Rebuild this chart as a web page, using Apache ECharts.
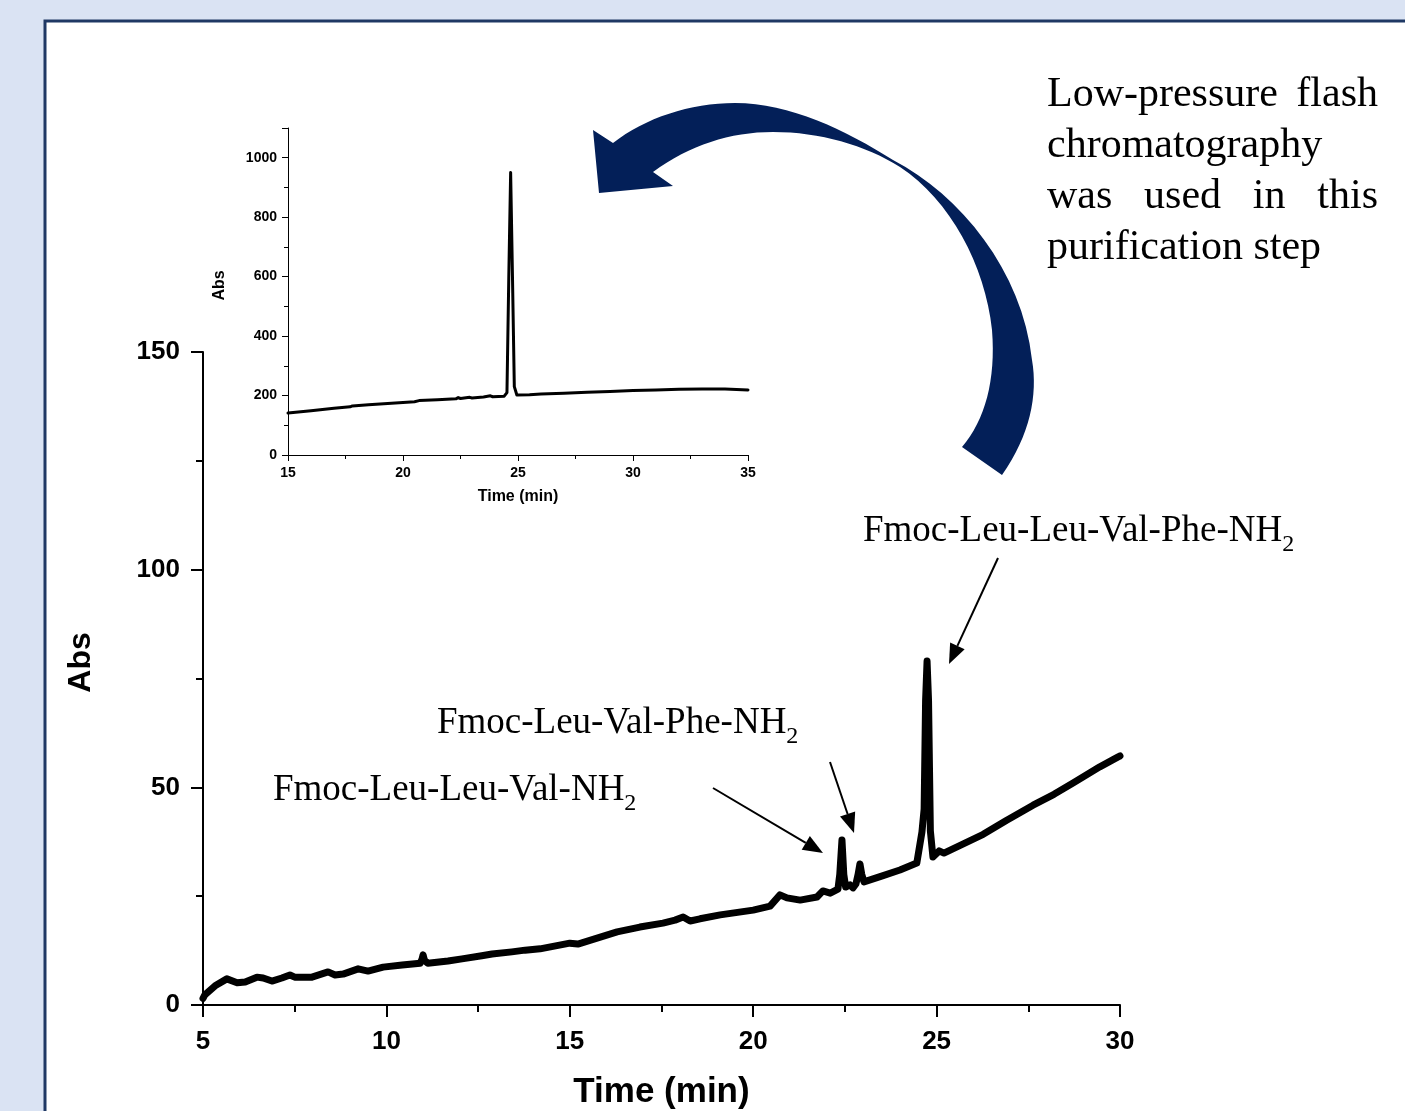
<!DOCTYPE html>
<html>
<head>
    <meta charset="utf-8">
    <script src="https://cdn.jsdelivr.net/npm/echarts@6/dist/echarts.min.js"></script>
    <style>
        body { margin: 0; background: #dae3f3; }
    </style>
</head>
<body>
    <div id="main" style="width:1405px;height:1111px;"></div>
</body>
<script type="text/javascript">
    // main chromatogram (5-30 min)
    var mainTime = [5.0, 5.05, 5.33, 5.65, 5.93, 6.15, 6.47, 6.64, 6.88, 7.15, 7.37, 7.5, 7.97, 8.41, 8.6, 8.82,
        9.23, 9.5, 9.91, 10.43, 10.92, 10.97, 11.0, 11.04, 11.13, 11.68, 12.06, 12.6, 12.88, 13.42, 13.78, 14.19,
        15.0, 15.22, 16.29, 16.91, 17.54, 17.87, 18.09, 18.28, 18.55, 19.1, 20.0, 20.46, 20.73, 20.92, 21.28,
        21.74, 21.9, 22.1, 22.31, 22.36, 22.42, 22.47, 22.52, 22.64, 22.72, 22.8, 22.86, 22.91, 22.96, 23.02,
        23.5, 24.0, 24.46, 24.6, 24.66, 24.7, 24.74, 24.78, 24.83, 24.9, 25.07, 25.2, 25.7, 26.27, 26.9, 27.63,
        28.2, 28.72, 29.45, 29.95, 30.0];
    var mainAbs = [1.5, 2.3, 4.4, 6.0, 5.1, 5.3, 6.4, 6.2, 5.5, 6.2, 6.9, 6.4, 6.4, 7.6, 6.9, 7.1,
        8.3, 7.8, 8.7, 9.2, 9.6, 10.5, 11.5, 10.2, 9.6, 10.1, 10.6, 11.3, 11.7, 12.2, 12.6, 12.9,
        14.2, 14.0, 16.8, 17.9, 18.8, 19.5, 20.2, 19.3, 19.8, 20.7, 21.8, 22.7, 25.3, 24.6, 24.1,
        24.8, 26.2, 25.7, 26.6, 30.0, 37.9, 30.0, 27.1, 27.6, 26.9, 27.8, 30.0, 32.4, 30.0, 28.3,
        29.6, 31.0, 32.6, 39.7, 45.0, 70.0, 79.0, 70.0, 40.0, 34.0, 35.4, 34.9, 36.9, 39.2, 42.4, 45.9,
        48.4, 51.0, 54.7, 57.0, 57.2];

    // inset: purified product (15-35 min)
    var insetTime = [15, 16, 17, 17.7, 17.8, 18.5, 19.5, 20.5, 20.7, 21.5, 22.3, 22.4, 22.5, 22.9, 23.0, 23.5,
        23.8, 23.9, 24.4, 24.52, 24.6, 24.68, 24.76, 24.84, 24.95, 25.5, 26, 27, 28, 29, 30, 31, 32, 33, 34, 35];
    var insetAbs = [141, 149, 157, 162, 165, 169, 174, 179, 183, 186, 189, 193, 190, 194, 192, 195,
        199, 196, 198, 210, 600, 950, 600, 230, 202, 203, 205, 208, 211, 214, 217, 219, 221, 222, 222, 219];

    var mainXTicks = [5, 30, 5];      // min, max, interval
    var mainYTicks = [0, 150, 50];
    var insetXTicks = [15, 35, 5];
    var insetYTicks = [0, 1100, 200];

    var peakLabels = [
        { text: 'Fmoc-Leu-Leu-Val-Phe-NH', x: 863, y: 544 },
        { text: 'Fmoc-Leu-Val-Phe-NH', x: 437, y: 736 },
        { text: 'Fmoc-Leu-Leu-Val-NH', x: 273, y: 803 }
    ];
    var noteLines = [
        ['Low-pressure', 'flash'],
        ['chromatography'],
        ['was', 'used', 'in', 'this'],
        ['purification step']
    ];

    function pairs(xs, ys) {
        return xs.map(function (x, i) { return [x, ys[i]]; });
    }

    var serif = '"Liberation Serif", "Times New Roman", serif';
    var sans = '"Liberation Sans", Arial, sans-serif';
    var measureCtx = document.createElement('canvas').getContext('2d');
    function textWidth(str, font) {
        measureCtx.font = font;
        return measureCtx.measureText(str).width;
    }

    // sample a list of cubic bezier segments / line points into polygon points
    function outline(start, segs) {
        var pts = [start];
        var cur = start;
        segs.forEach(function (s) {
            if (s.length === 2) {
                pts.push(s);
                cur = s;
                return;
            }
            for (var i = 1; i <= 16; i++) {
                var t = i / 16, u = 1 - t;
                var x = u * u * u * cur[0] + 3 * u * u * t * s[0] + 3 * u * t * t * s[2] + t * t * t * s[4];
                var y = u * u * u * cur[1] + 3 * u * u * t * s[1] + 3 * u * t * t * s[3] + t * t * t * s[5];
                pts.push([x, y]);
            }
            cur = [s[4], s[5]];
        });
        return pts;
    }

    var graphics = [];
    // white panel with navy border
    graphics.push({
        type: 'rect', z: -100, silent: true,
        shape: { x: 45, y: 21, width: 1500, height: 1200 },
        style: { fill: '#ffffff', stroke: '#1f3864', lineWidth: 3 }
    });

    // curved navy arrow
    graphics.push({
        type: 'polygon', z: 1, silent: true,
        shape: {
            points: outline([1002, 475], [
                [1030, 435, 1038, 395, 1032, 360],
                [1022, 270, 960, 195, 893, 160],
                [845, 130, 790, 103, 735, 103],
                [690, 103, 645, 118, 613, 143],
                [593, 130], [599, 193], [673, 186], [653, 172],
                [690, 145, 730, 132, 773, 132],
                [820, 132, 865, 145, 900, 167],
                [950, 200, 985, 265, 992, 330],
                [996, 380, 985, 420, 962, 447]
            ])
        },
        style: { fill: '#031f58' }
    });

    // note text, justified lines
    var noteFont = '42px ' + serif;
    var noteLeft = 1047, noteRight = 1378;
    noteLines.forEach(function (words, li) {
        var y = 95 + li * 51;
        if (words.length === 1) {
            graphics.push({ type: 'text', style: { text: words[0], x: noteLeft, y: y, font: noteFont, fill: '#000', align: 'left', verticalAlign: 'middle' } });
            return;
        }
        var total = 0;
        words.forEach(function (w) { total += textWidth(w, noteFont); });
        var gap = (noteRight - noteLeft - total) / (words.length - 1);
        var x = noteLeft;
        words.forEach(function (w) {
            graphics.push({ type: 'text', style: { text: w, x: x, y: y, font: noteFont, fill: '#000', align: 'left', verticalAlign: 'middle' } });
            x += textWidth(w, noteFont) + gap;
        });
    });

    // peak labels with subscript 2
    var labelFont = '37px ' + serif;
    var subFont = '24px ' + serif;
    peakLabels.forEach(function (p) {
        graphics.push({ type: 'text', style: { text: p.text, x: p.x, y: p.y - 13, font: labelFont, fill: '#000', align: 'left', verticalAlign: 'middle' } });
        graphics.push({ type: 'text', style: { text: '2', x: p.x + textWidth(p.text, labelFont), y: p.y + 1, font: subFont, fill: '#000', align: 'left', verticalAlign: 'middle' } });
    });

    // thin pointer arrows
    function pointer(x1, y1, x2, y2) {
        var dx = x2 - x1, dy = y2 - y1;
        var len = Math.sqrt(dx * dx + dy * dy);
        var ux = dx / len, uy = dy / len;
        var hl = 20, hw = 8;
        var bx = x2 - ux * hl, by = y2 - uy * hl;
        graphics.push({ type: 'line', silent: true, shape: { x1: x1, y1: y1, x2: bx, y2: by }, style: { stroke: '#000', lineWidth: 2 } });
        graphics.push({
            type: 'polygon', silent: true,
            shape: { points: [[x2, y2], [bx - uy * hw, by + ux * hw], [bx + uy * hw, by - ux * hw]] },
            style: { fill: '#000' }
        });
    }
    pointer(998, 558, 949, 664);
    pointer(830, 762, 854, 833);
    pointer(713, 788, 823, 853);

    var myChart = echarts.init(document.getElementById('main'));

    function axisCommon(width) {
        return {
            axisLine: { show: true, onZero: false, lineStyle: { color: '#000', width: width } },
            splitLine: { show: false },
            axisTick: { show: true, inside: false, lineStyle: { color: '#000', width: width } },
            minorTick: { show: true, splitNumber: 2, lineStyle: { color: '#000', width: width } }
        };
    }

    function xAxis(ticks, grid, big) {
        var a = axisCommon(big ? 2 : 1);
        a.axisTick.length = big ? 12 : 6;
        a.minorTick.length = big ? 7 : 4;
        return Object.assign(a, {
            type: 'value', gridIndex: grid, min: ticks[0], max: ticks[1], interval: ticks[2],
            name: 'Time (min)', nameLocation: 'middle', nameGap: big ? 70 : 34,
            nameTextStyle: { color: '#000', fontFamily: sans, fontWeight: 'bold', fontSize: big ? 35 : 16 },
            axisLabel: { color: '#000', fontFamily: sans, fontWeight: 'bold', fontSize: big ? 26 : 14, margin: big ? 24 : 11 }
        });
    }

    function yAxis(ticks, grid, big) {
        var a = axisCommon(big ? 2 : 1);
        a.axisTick.length = big ? 12 : 6;
        a.minorTick.length = big ? 7 : 4;
        return Object.assign(a, {
            type: 'value', gridIndex: grid, min: ticks[0], max: ticks[1], interval: ticks[2],
            name: 'Abs', nameLocation: 'middle', nameGap: big ? 106 : 60, nameRotate: 90,
            nameTextStyle: {
                color: '#000', fontFamily: sans, fontWeight: 'bold', fontSize: big ? 32 : 16,
                padding: big ? [0, 0, 0, 32] : [0, 0, 0, 12]
            },
            axisLabel: {
                color: '#000', fontFamily: sans, fontWeight: 'bold', fontSize: big ? 26 : 14, margin: big ? 23 : 11,
                formatter: function (v) { return v % ticks[2] === 0 ? String(v) : ''; }
            }
        });
    }

    myChart.setOption({
        backgroundColor: '#dae3f3',
        animation: false,
        grid: [
            { left: 203, top: 352, width: 917, height: 653, outerBoundsMode: 'none' },
            { left: 288, top: 128, width: 460, height: 327, outerBoundsMode: 'none' }
        ],
        xAxis: [xAxis(mainXTicks, 0, true), xAxis(insetXTicks, 1, false)],
        yAxis: [yAxis(mainYTicks, 0, true), yAxis(insetYTicks, 1, false)],
        series: [
            {
                type: 'line', xAxisIndex: 0, yAxisIndex: 0, showSymbol: false, silent: true,
                lineStyle: { color: '#000', width: 7, join: 'round', cap: 'round' },
                data: pairs(mainTime, mainAbs)
            },
            {
                type: 'line', xAxisIndex: 1, yAxisIndex: 1, showSymbol: false, silent: true,
                lineStyle: { color: '#000', width: 3, join: 'round', cap: 'round' },
                data: pairs(insetTime, insetAbs)
            }
        ],
        graphic: graphics
    });
</script>
</html>
